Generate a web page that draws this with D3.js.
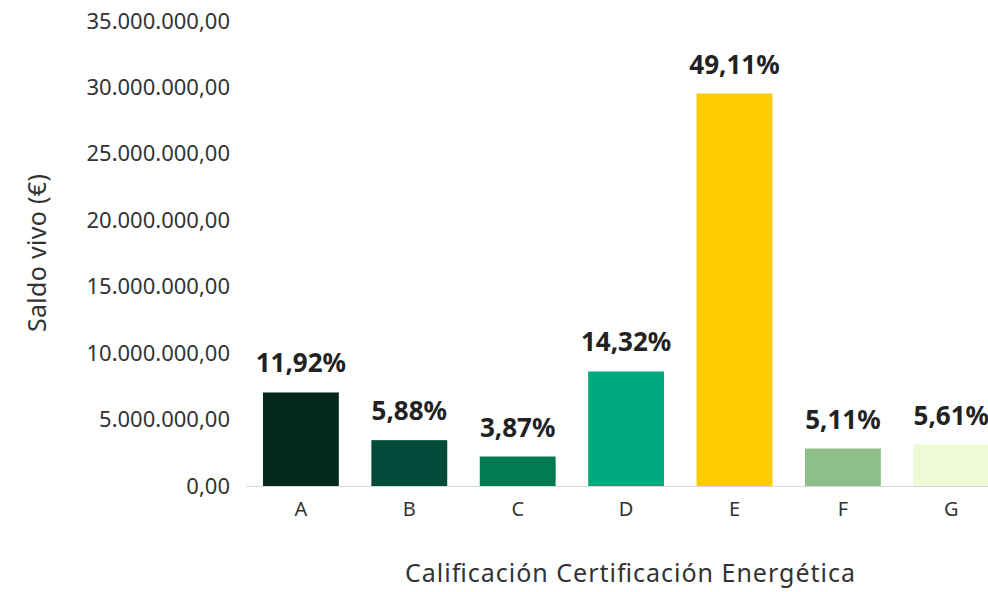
<!DOCTYPE html>
<html>
<head>
<meta charset="utf-8">
<script src="https://cdn.jsdelivr.net/npm/d3@7"></script>
<style>
  body { margin: 0; background: #fff; }
  svg { display: block; overflow: hidden; }
  svg text { font-family: "Noto Sans", "Open Sans", sans-serif; }
</style>
</head>
<body>
<div id="root"></div>
<script>
// values
const categories = ["A", "B", "C", "D", "E", "F", "G"];
const saldo = [7040000, 3450000, 2220000, 8620000, 29540000, 2820000, 3120000];
const percents = ["11,92%", "5,88%", "3,87%", "14,32%", "49,11%", "5,11%", "5,61%"];
const colors = ["#03291f", "#024a3a", "#027a54", "#00aa7f", "#fecb00", "#8fbf89", "#edfad3"];
const yTicks = [0, 5e6, 10e6, 15e6, 20e6, 25e6, 30e6, 35e6];

const data = categories.map((c, i) => ({ cat: c, value: saldo[i], pct: percents[i], color: colors[i] }));

const W = 988, H = 592;
const svg = d3.select("#root").append("svg").attr("width", W).attr("height", H);

const es = d3.formatLocale({ decimal: ",", thousands: ".", grouping: [3], currency: ["", " €"] });
const fmt = es.format(",.2f");

const x = d3.scaleBand()
  .domain(categories)
  .range([246.7, 1005.5])
  .paddingInner(0.3)
  .paddingOuter(0.15);

const y = d3.scaleLinear().domain([0, 35e6]).range([486, 21]);

// y axis labels
const yAxis = svg.append("g")
  .attr("transform", "translate(230,0)")
  .call(d3.axisLeft(y).tickValues(yTicks).tickFormat(fmt).tickSize(0).tickPadding(0))
  .attr("font-family", null)
  .attr("font-size", null);
yAxis.select(".domain").remove();
yAxis.selectAll("text")
  .attr("fill", "#333")
  .style("font-size", "22px");

// bars
svg.append("g").selectAll("rect")
  .data(data)
  .join("rect")
  .attr("x", d => x(d.cat))
  .attr("width", x.bandwidth())
  .attr("y", d => y(d.value))
  .attr("height", d => y(0) - y(d.value))
  .attr("fill", d => d.color);

// baseline
svg.append("line")
  .attr("x1", 246).attr("x2", W)
  .attr("y1", y(0) + 0.5).attr("y2", y(0) + 0.5)
  .attr("stroke", "#cfcfcf")
  .attr("stroke-opacity", 0.8);

// percentage labels
svg.append("g").selectAll("text")
  .data(data)
  .join("text")
  .attr("x", d => x(d.cat) + x.bandwidth() / 2)
  .attr("y", d => y(d.value) - 20)
  .attr("text-anchor", "middle")
  .attr("fill", "#222")
  .style("font-size", "26px")
  .style("font-weight", "700")
  .text(d => d.pct);

// x axis labels
const xAxis = svg.append("g")
  .attr("transform", `translate(0,${y(0)})`)
  .call(d3.axisBottom(x).tickSize(0).tickPadding(16))
  .attr("font-family", null)
  .attr("font-size", null);
xAxis.select(".domain").remove();
xAxis.selectAll("text")
  .attr("fill", "#333")
  .style("font-size", "20px");

// axis titles
svg.append("text")
  .attr("x", 630)
  .attr("y", 582)
  .attr("text-anchor", "middle")
  .attr("fill", "#333")
  .attr("textLength", 450)
  .attr("lengthAdjust", "spacing")
  .style("font-size", "25px")
  .text("Calificación Certificación Energética");

svg.append("text")
  .attr("transform", "translate(46,253) rotate(-90)")
  .attr("text-anchor", "middle")
  .attr("fill", "#333")
  .attr("textLength", 158)
  .attr("lengthAdjust", "spacing")
  .style("font-size", "25px")
  .text("Saldo vivo (€)");
</script>
</body>
</html>
